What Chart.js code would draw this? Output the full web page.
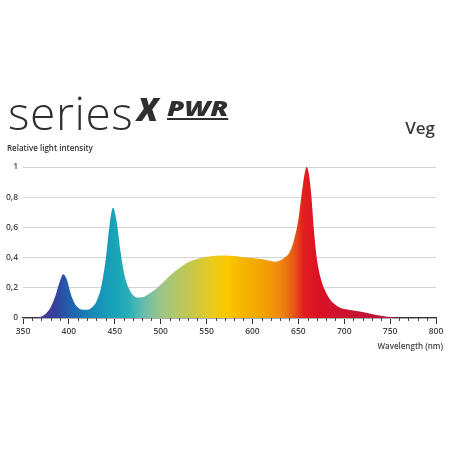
<!DOCTYPE html>
<html>
<head>
<meta charset="utf-8">
<script src="https://cdn.jsdelivr.net/npm/chart.js@4"></script>
<style>
  html, body { margin: 0; padding: 0; background: #fff; }
  #wrap { position: relative; width: 449px; height: 449px; overflow: hidden; font-family: "Open Sans", sans-serif; }
  #wrap canvas { position: absolute; left: 0; top: 0; }
  .txt { position: absolute; white-space: nowrap; line-height: 1; color: #333; }
  #series { left: 8px; top: 89px; font-size: 46px; font-weight: 300; letter-spacing: 0.6px; color: #2f2f2f; }
  #xmark { left: 137px; top: 93px; font-size: 32px; font-weight: 800; font-style: italic; color: #2f2f2f; }
  #pwr { left: 167px; top: 98px; font-size: 21px; font-weight: 800; font-style: italic; color: #2f2f2f;
         transform: scaleX(1.32); transform-origin: left top;
         text-decoration: underline; text-decoration-thickness: 2px; text-underline-offset: 2px; }
  #veg { right: 14px; top: 119px; font-size: 17px; font-weight: 600; color: #3a3a3a; }
  #ylab { left: 7px; top: 144px; font-size: 8px; font-weight: 600; color: #333; }
  #xlab { right: 6px; top: 342px; font-size: 8px; font-weight: 600; color: #444; }
</style>
</head>
<body>
<div id="wrap">
  <canvas id="spectrumChart" width="449" height="449"></canvas>
  <div class="txt" id="series">series</div>
  <div class="txt" id="xmark">X</div>
  <div class="txt" id="pwr">PWR</div>
  <div class="txt" id="veg">Veg</div>
  <div class="txt" id="ylab">Relative light intensity</div>
  <div class="txt" id="xlab">Wavelength (nm)</div>
</div>
<script>
// wavelength (nm) and relative intensity
const wavelengths = [350, 360, 365, 370, 375, 380, 385, 390, 394, 398, 402, 406, 410, 415, 420, 425, 430, 435, 440, 444, 448, 452, 456, 460, 465, 470, 475, 480, 485, 490, 500, 510, 520, 530, 540, 550, 560, 570, 580, 590, 600, 610, 620, 625, 630, 635, 640, 645, 650, 654, 657, 659, 661, 664, 667, 670, 675, 680, 685, 690, 695, 700, 710, 720, 730, 740, 750, 760, 800];
const intensity = [0, 0, 0.002, 0.01, 0.03, 0.07, 0.14, 0.24, 0.29, 0.25, 0.16, 0.10, 0.07, 0.055, 0.055, 0.07, 0.11, 0.20, 0.38, 0.60, 0.73, 0.64, 0.45, 0.30, 0.20, 0.15, 0.135, 0.137, 0.15, 0.17, 0.22, 0.28, 0.33, 0.37, 0.39, 0.405, 0.412, 0.414, 0.41, 0.403, 0.397, 0.39, 0.378, 0.373, 0.38, 0.40, 0.43, 0.51, 0.65, 0.84, 0.96, 1.0, 0.97, 0.82, 0.58, 0.40, 0.25, 0.17, 0.12, 0.09, 0.07, 0.06, 0.05, 0.04, 0.027, 0.015, 0.006, 0, 0];

const yTicks = [0, 0.2, 0.4, 0.6, 0.8, 1];
const xTicks = [350, 400, 450, 500, 550, 600, 650, 700, 750, 800];

// spectrum colour stops for the fill
const colorStops = [
  [360, '#4a3d8f'], [385, '#363f9c'], [395, '#2656a8'], [410, '#1c6eb2'],
  [430, '#1690b8'], [450, '#18a4b8'], [465, '#28aeb6'], [480, '#62bcb0'],
  [500, '#9cc488'], [520, '#b6c864'], [540, '#d0c840'], [558, '#ecca18'],
  [572, '#fac900'], [590, '#f6b400'], [612, '#f2a200'], [630, '#ee8a0e'],
  [645, '#e65a16'], [655, '#e2201e'], [670, '#dc1224'], [700, '#cc1230'],
  [750, '#b8163a']
];

const points = wavelengths.map((w, i) => ({ x: w, y: intensity[i] }));

function spectrumFill(ctx) {
  const chart = ctx.chart;
  const x = chart.scales.x;
  if (!chart.chartArea || !x) return '#19a5b8';
  const x0 = x.getPixelForValue(350);
  const x1 = x.getPixelForValue(800);
  const g = chart.ctx.createLinearGradient(x0, 0, x1, 0);
  colorStops.forEach(([nm, c]) => g.addColorStop((nm - 350) / 450, c));
  return g;
}

const minorTicks = {
  id: 'minorTicks',
  afterDraw(chart) {
    const x = chart.scales.x;
    const c = chart.ctx;
    const y0 = chart.chartArea.bottom;
    c.save();
    c.strokeStyle = '#444';
    c.lineWidth = 1;
    for (let nm = 360; nm < 800; nm += 10) {
      if (nm % 50 === 0) continue;
      const px = Math.round(x.getPixelForValue(nm)) + 0.5;
      c.beginPath();
      c.moveTo(px, y0);
      c.lineTo(px, y0 + 3);
      c.stroke();
    }
    c.restore();
  }
};

new Chart(document.getElementById('spectrumChart'), {
  type: 'line',
  data: {
    datasets: [{
      data: points,
      fill: 'origin',
      backgroundColor: spectrumFill,
      borderWidth: 0,
      pointRadius: 0,
      cubicInterpolationMode: 'monotone',
    }]
  },
  options: {
    responsive: false,
    animation: false,
    events: [],
    layout: { padding: { left: 0, right: 13, top: 167, bottom: 0 } },
    plugins: { legend: { display: false }, tooltip: { enabled: false } },
    scales: {
      x: {
        type: 'linear',
        min: 350,
        max: 800,
        afterBuildTicks: (s) => { s.ticks = xTicks.map(v => ({ value: v })); },
        afterFit: (s) => { s.height = 449 - 318; },
        grid: { drawOnChartArea: false, tickLength: 6, tickColor: '#333' },
        border: { color: '#333', width: 1.2 },
        ticks: { color: '#444', padding: 2, font: { family: 'Open Sans', size: 8.5, weight: '600' } },
      },
      y: {
        min: 0,
        max: 1,
        afterBuildTicks: (s) => { s.ticks = yTicks.map(v => ({ value: v })); },
        afterFit: (s) => { s.width = 23; },
        grid: { color: '#d4d4d4', lineWidth: 1, drawTicks: false },
        border: { display: false },
        ticks: {
          color: '#444',
          padding: 5,
          font: { family: 'Open Sans', size: 8.5, weight: '600' },
          callback: (v) => String(v).replace('.', ','),
        },
      },
    },
  },
  plugins: [minorTicks],
});
</script>
</body>
</html>
